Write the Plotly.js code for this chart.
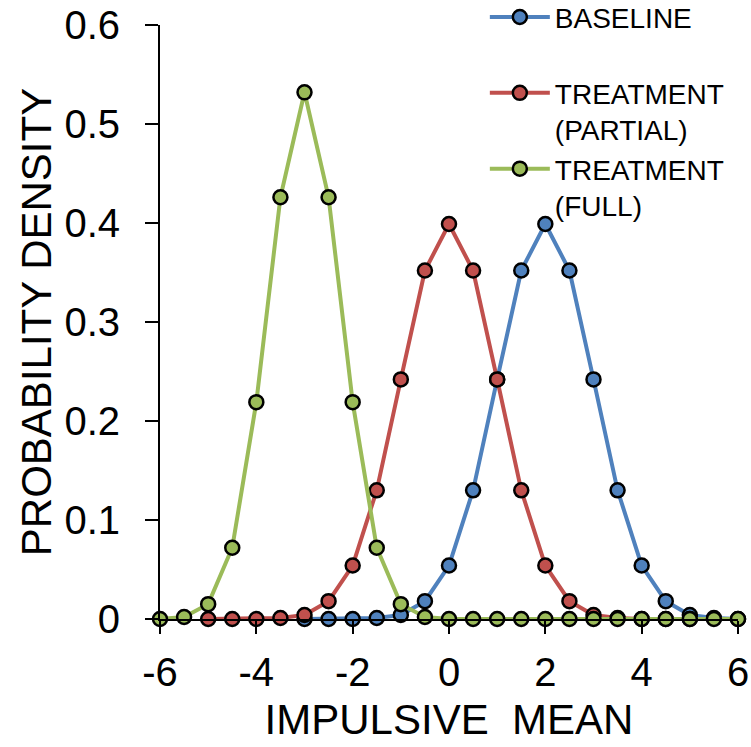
<!DOCTYPE html>
<html>
<head>
<meta charset="utf-8">
<script src="https://cdn.plot.ly/plotly-3.0.1.min.js"></script>
<style>html,body{margin:0;padding:0;background:#fff;}#chart{width:751px;height:747px;}</style>
</head>
<body>
<div id="chart"></div>
<script>
// x positions (impulsive mean)
const xFull = [-6,-5.5,-5,-4.5,-4,-3.5,-3,-2.5,-2,-1.5,-1,-0.5,0,0.5,1,1.5,2,2.5,3,3.5,4,4.5,5,5.5,6];
const xPartial = [-5,-4.5,-4,-3.5,-3,-2.5,-2,-1.5,-1,-0.5,0,0.5,1,1.5,2,2.5,3,3.5,4,4.5,5];
const xBaseline = [-3,-2.5,-2,-1.5,-1,-0.5,0,0.5,1,1.5,2,2.5,3,3.5,4,4.5,5,5.5,6];

// probability density values
const yBaseline = [0.000,0.000,0.000,0.001,0.004,0.018,0.054,0.130,0.242,0.352,0.399,0.352,0.242,0.130,0.054,0.018,0.004,0.001,0.000];
const yPartial  = [0.000,0.000,0.000,0.001,0.004,0.018,0.054,0.130,0.242,0.352,0.399,0.352,0.242,0.130,0.054,0.018,0.004,0.001,0.000,0.000,0.000];
const yFull     = [0.000,0.002,0.015,0.072,0.219,0.426,0.532,0.426,0.219,0.072,0.015,0.002,0.000,0.000,0.000,0.000,0.000,0.000,0.000,0.000,0.000,0.000,0.000,0.000,0.000];

const seriesNames = ['BASELINE<br> ', 'TREATMENT<br>(PARTIAL)', 'TREATMENT<br>(FULL)'];
const seriesColors = ['#4F81BD', '#C0504D', '#9BBB59'];

const xTickVals = [-6,-4,-2,0,2,4,6];
const xTickText = ['-6','-4','-2','0','2','4','6'];
const yTickVals = [0,0.1,0.2,0.3,0.4,0.5,0.6];
const yTickText = ['0','0.1','0.2','0.3','0.4','0.5','0.6'];

const FONT = 'Liberation Sans, Arial, sans-serif';

function mk(x, y, i) {
  return {
    x: x, y: y, name: seriesNames[i], type: 'scatter', mode: 'lines+markers',
    cliponaxis: false,
    line: {color: seriesColors[i], width: 4},
    marker: {color: seriesColors[i], size: 14, line: {color: '#000', width: 2.5}}
  };
}

const data = [mk(xBaseline, yBaseline, 0), mk(xPartial, yPartial, 1), mk(xFull, yFull, 2)];

const layout = {
  width: 751, height: 747,
  margin: {l: 160, r: 13, t: 25, b: 128, pad: 0, autoexpand: false},
  paper_bgcolor: '#fff', plot_bgcolor: '#fff',
  font: {family: FONT, color: '#000'},
  showlegend: true,
  legend: {
    x: 0.562, xanchor: 'left', y: 1.055, yanchor: 'top',
    bgcolor: 'rgba(0,0,0,0)', borderwidth: 0,
    font: {family: FONT, size: 28, color: '#000'},
    valign: 'top', itemwidth: 60, tracegroupgap: 0
  },
  xaxis: {
    range: [-6, 6], tickmode: 'array', tickvals: xTickVals, ticktext: xTickText,
    showgrid: false, zeroline: false, showline: true, linecolor: '#000', linewidth: 2,
    ticks: 'outside', ticklen: 13, tickwidth: 2, tickcolor: '#000',
    tickfont: {family: FONT, size: 40, color: '#000'}, ticklabelstandoff: 4,
    title: {text: 'IMPULSIVE  MEAN', font: {family: FONT, size: 42, color: '#000'}, standoff: 12},
    fixedrange: true
  },
  yaxis: {
    range: [0, 0.6], tickmode: 'array', tickvals: yTickVals, ticktext: yTickText,
    showgrid: false, zeroline: false, showline: true, linecolor: '#000', linewidth: 2,
    ticks: 'outside', ticklen: 13, tickwidth: 2, tickcolor: '#000',
    tickfont: {family: FONT, size: 40, color: '#000'}, ticklabelstandoff: 17,
    title: {text: 'PROBABILITY DENSITY', font: {family: FONT, size: 42, color: '#000'}, standoff: 0},
    fixedrange: true
  }
};

Plotly.newPlot('chart', data, layout, {displayModeBar: false, staticPlot: true});
</script>
</body>
</html>
